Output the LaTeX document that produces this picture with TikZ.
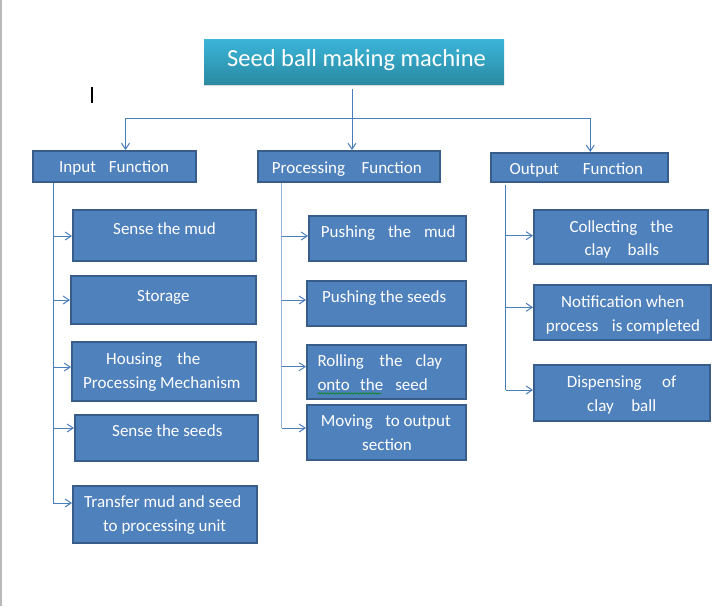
\documentclass[tikz,border=0pt]{standalone}
\usepackage{fontspec}
\setmainfont{Carlito}
\usetikzlibrary{arrows.meta,shadows,decorations.pathmorphing}
\definecolor{boxfill}{HTML}{4F81BD}
\definecolor{boxline}{HTML}{385D8A}
\definecolor{linec}{HTML}{4A7EBB}
\definecolor{linelight}{HTML}{95B3D7}
\definecolor{titletop}{HTML}{3BB5D9}
\definecolor{titlebot}{HTML}{2A8AA2}
\begin{document}
\begin{tikzpicture}[x=1pt,y=-1pt,
  box/.style={draw=boxline, fill=boxfill, line width=2pt, inner sep=0pt, rectangle},
  txt/.style={text=white, font=\fontsize{17}{20}\selectfont, inner sep=0pt, anchor=base west},
  conn/.style={draw=linec, line width=1pt},
  arr/.style={conn, -{Straight Barb[length=6pt,width=8pt]}},
]
\useasboundingbox (0,0) rectangle (726,606);
\fill[white] (0,0) rectangle (726,606);
\fill[gray!55] (0,0) rectangle (2,606);
% cursor
\fill[black] (91.3,87) rectangle (93,103);

% title
\node[rectangle, minimum width=300pt, minimum height=45pt, inner sep=0pt,
      top color=titletop, bottom color=titlebot,
      drop shadow={shadow xshift=0pt, shadow yshift=-2pt, opacity=0.3}] (title) at (354,61.5) {};
\node[txt, font=\fontsize{24.5}{28}\selectfont] (ttl) at (227,66.7) {Seed ball making machine};

% headers
\node[box, minimum width=163pt, minimum height=31pt] (inp) at (114.5,166.5) {};
\node[box, minimum width=182pt, minimum height=31pt] (proc) at (349,166.5) {};
\node[box, minimum width=177pt, minimum height=29pt] (outp) at (579.5,167.5) {};
\node[txt] (tinp) at (59,172.7) {Input\hspace{13pt}Function};
\node[txt] (tproc) at (271.7,173.3) {Processing\hspace{16.5pt}Function};
\node[txt] (toutp) at (509.3,174) {Output\hspace{24pt}Function};

% left column
\node[box, minimum width=183pt, minimum height=51pt] (s1) at (164.5,235.5) {};
\node[box, minimum width=185pt, minimum height=48pt] (s2) at (163.5,300) {};
\node[box, minimum width=184pt, minimum height=59pt] (s3) at (164,371.5) {};
\node[box, minimum width=183pt, minimum height=46pt] (s4) at (166.5,438) {};
\node[box, minimum width=184pt, minimum height=57pt] (s5) at (165,514.5) {};
\node[txt] (ts1) at (113,234) {Sense the mud};
\node[txt] (ts2) at (137,301) {Storage};
\node[txt] (ts3a) at (106,364) {Housing\hspace{15pt}the};
\node[txt] (ts3b) at (83,388) {Processing Mechanism};
\node[txt] (ts4) at (112,436) {Sense the seeds};
\node[txt] (ts5a) at (84,507) {Transfer mud and seed};
\node[txt] (ts5b) at (103,531) {to processing unit};

% middle column
\node[box, minimum width=157pt, minimum height=45pt] (p1) at (387.5,238.5) {};
\node[box, minimum width=159pt, minimum height=45pt] (p2) at (386.5,303.5) {};
\node[box, minimum width=159pt, minimum height=54pt] (p3) at (386.5,372) {};
\node[box, minimum width=159pt, minimum height=55pt] (p4) at (386.5,432.5) {};
\node[txt] (tp1) at (320.7,237) {Pushing\hspace{13pt}the\hspace{13pt}mud};
\node[txt] (tp2) at (322,302.7) {Pushing the seeds};
\node[txt] (tp3a) at (317.3,366.7) {Rolling\hspace{15.5pt}the\hspace{13pt}clay};
\node[txt] (tp3b) at (317.3,390) {onto\hspace{10.5pt}the\hspace{12pt}seed};
\node[txt] (tp4a) at (320.7,426) {Moving\hspace{12.5pt}to output};
\node[txt] (tp4b) at (362,450) {section};
\draw[green!55!black, line width=0.6pt, decorate, decoration={snake, amplitude=0.7pt, segment length=3pt}] (317.5,393.5) -- (381,393.5);

% right column
\node[box, minimum width=174pt, minimum height=54pt] (o1) at (621,237) {};
\node[box, minimum width=177pt, minimum height=55pt] (o2) at (622.5,312.5) {};
\node[box, minimum width=176pt, minimum height=56pt] (o3) at (622,393) {};
\node[txt] (to1a) at (569.3,232.7) {Collecting\hspace{13pt}the};
\node[txt] (to1b) at (584.3,255.7) {clay\hspace{16.5pt}balls};
\node[txt] (to2a) at (561,307.3) {Notification when};
\node[txt] (to2b) at (545.7,331) {process\hspace{13.5pt}is completed};
\node[txt] (to3a) at (566.7,387) {Dispensing\hspace{20.5pt}of};
\node[txt] (to3b) at (587,411) {clay\hspace{17.5pt}ball};

% top connectors
\coordinate (tb) at (352,89);
\coordinate (hl) at (125.5,118);
\coordinate (hr) at (590.3,118);
\draw[arr] (tb) -- (tb |- proc.north);
\draw[conn] (hl) -- (hr);
\draw[arr] (hl) -- (hl |- inp.north);
\draw[arr] (hr) -- (hr |- outp.north);

% left trunk
\coordinate (la1) at (53.3,236);
\coordinate (la2) at (53.3,300);
\coordinate (la3) at (53.3,367);
\coordinate (la4) at (53.3,428);
\coordinate (la5) at (53.3,503);
\draw[conn] (la1 |- inp.south) -- (la5);
\draw[arr] (la1) -- (la1 -| s1.west);
\draw[arr] (la2) -- (la2 -| s2.west);
\draw[arr] (la3) -- (la3 -| s3.west);
\draw[arr] (la4) -- (la4 -| s4.west);
\draw[arr] (la5) -- (la5 -| s5.west);

% middle trunk
\coordinate (ma1) at (281.5,236);
\coordinate (ma2) at (281.5,300);
\coordinate (ma3) at (281.5,366.7);
\coordinate (ma4) at (281.5,428);
\draw[draw=linelight, line width=1pt] (ma1 |- proc.south) -- (ma4);
\draw[arr] (ma1) -- (ma1 -| p1.west);
\draw[arr] (ma2) -- (ma2 -| p2.west);
\draw[arr] (ma3) -- (ma3 -| p3.west);
\draw[arr] (ma4) -- (ma4 -| p4.west);

% right trunk
\coordinate (ra1) at (505.5,235.7);
\coordinate (ra2) at (505.5,307.3);
\coordinate (ra3) at (505.5,390);
\coordinate (rtop) at (505.5,185);
\draw[conn] (rtop) -- (ra3);
\draw[arr] (ra1) -- (ra1 -| o1.west);
\draw[arr] (ra2) -- (ra2 -| o2.west);
\draw[arr] (ra3) -- (ra3 -| o3.west);
\end{tikzpicture}
\end{document}
